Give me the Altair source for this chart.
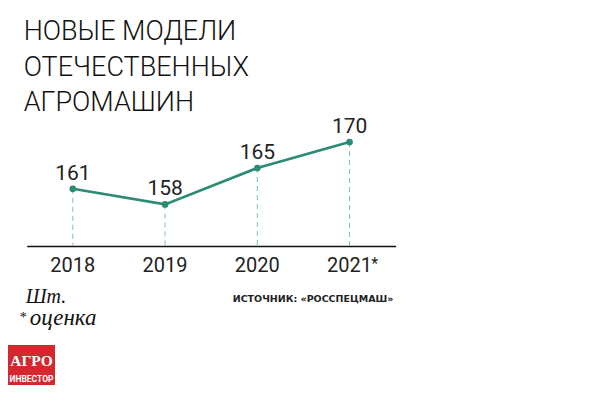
import altair as alt
import pandas as pd

# ---- data ----
years = ["2018", "2019", "2020", "2021"]
values = [161, 158, 165, 170]
year_marks = ["", "", "", "*"]
title_lines = ["НОВЫЕ МОДЕЛИ", "ОТЕЧЕСТВЕННЫХ", "АГРОМАШИН"]
unit_text = "Шт."
note_text = "оценка"
source_text = "ИСТОЧНИК: «РОССПЕЦМАШ»"
logo_top = "АГРО"
logo_bottom = "ИНВЕСТОР"

TEAL = "#2b8b74"
DASH = "#7cc0b0"
W, H = 369, 130

df = pd.DataFrame({"year": years, "value": values, "mark": year_marks})

x = alt.X("year:N", scale=alt.Scale(paddingInner=0, paddingOuter=0),
          axis=alt.Axis(title=None, labels=False, ticks=False, domain=True,
                        domainColor="#111111", domainWidth=1.5, grid=False))
y = alt.Y("value:Q", scale=alt.Scale(domain=[150, 175], nice=False, zero=False),
          axis=None)

base = alt.Chart(df)

rules = base.mark_rule(color=DASH, strokeDash=[5, 4], strokeWidth=1).encode(
    x=x, y=y, y2=alt.value(H))
line = base.mark_line(color=TEAL, strokeWidth=2.6).encode(x=x, y=y)
pts = base.mark_circle(color=TEAL, size=45, opacity=1).encode(x=x, y=y)
vals = base.mark_text(font="Roboto", fontSize=21, color="#222222",
                      baseline="alphabetic", dy=-9).encode(
    x=x, y=y, text="value:Q")
yrs = base.mark_text(font="Roboto", fontSize=20, color="#222222",
                     baseline="alphabetic").encode(
    x=x, y=alt.value(156.5), text="year:N")
star = base.mark_text(font="Roboto", fontSize=16, color="#222222",
                      baseline="alphabetic", dx=25).encode(
    x=x, y=alt.value(153), text="mark:N")


def label(txt, xv, yv, **kw):
    d = pd.DataFrame({"t": [txt]})
    return alt.Chart(d).mark_text(baseline="alphabetic", align="left", **kw).encode(
        x=alt.value(xv), y=alt.value(yv), text="t:N")


title_layers = [
    label(t, -3, yb, font="Roboto Light, Roboto", fontWeight=300, fontSize=27,
          color="#111111")
    for t, yb in zip(title_lines, [-76.5, -40, -5])
]

unit = label(unit_text, -1, 187, font="Liberation Serif", fontStyle="italic",
             fontSize=20, color="#111111")
note_star = label("*", -7, 206, font="Liberation Serif", fontSize=14, color="#111111")
note = label(note_text, 3, 209, font="Liberation Serif", fontStyle="italic",
             fontSize=23, color="#111111")
source = label(source_text, 206, 186.5, font="DejaVu Sans", fontWeight="bold",
               fontSize=9.5, color="#222222")

logo_box = alt.Chart(pd.DataFrame({"t": [logo_top]})).mark_rect(color="#d6262e").encode(
    x=alt.value(-18.7), x2=alt.value(28.3), y=alt.value(229), y2=alt.value(272))
logo1 = alt.Chart(pd.DataFrame({"t": [logo_top]})).mark_text(
    font="Liberation Serif", fontWeight="bold", fontSize=15.5, color="white",
    align="center", baseline="alphabetic").encode(
    x=alt.value(4.8), y=alt.value(250), text="t:N")
logo2 = alt.Chart(pd.DataFrame({"t": [logo_bottom]})).mark_text(
    font="Roboto", fontWeight="bold",
    fontSize=8.5, color="white", align="center", baseline="alphabetic").encode(
    x=alt.value(4.8), y=alt.value(266), text="t:N")

chart = alt.layer(
    rules, line, pts, vals, yrs, star, *title_layers, unit, note_star, note, source,
    logo_box, logo1, logo2
).properties(
    width=W, height=H,
    autosize=alt.AutoSizeParams(type="none"),
    padding={"left": 18.7, "top": 108, "right": 196, "bottom": 139},
    background="white",
).configure_view(stroke=None)

chart.save("out.html", embed_options={"renderer": "svg", "actions": False})
